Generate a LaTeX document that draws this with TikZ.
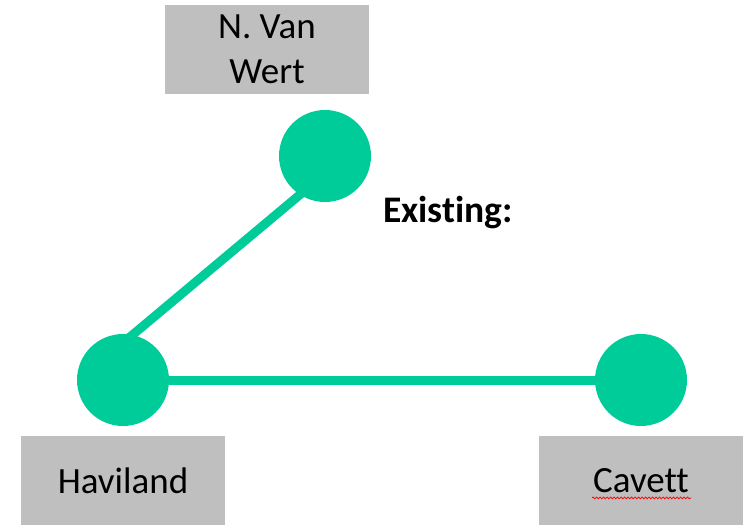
\documentclass[tikz,border=0pt]{standalone}
\usepackage{fontspec}
\setmainfont{Carlito}[Ligatures=NoCommon]
\usepackage{tikz}
\usetikzlibrary{positioning, decorations.pathmorphing}
\definecolor{sitegreen}{HTML}{00CC99}
\definecolor{labelgray}{HTML}{BFBFBF}
\tikzstyle{site} = [circle, minimum size=92pt, inner sep=0pt, fill=sitegreen]
\tikzstyle{namebox} = [rectangle, minimum width=204pt, minimum height=89pt, align=center, fill=labelgray, font=\fontsize{37}{45}\selectfont]
\tikzstyle{link} = [line width=9pt, draw=sitegreen, shorten <=-8pt, shorten >=-8pt]

\begin{document}
\begin{tikzpicture}[x=1pt, y=-1pt]
        \useasboundingbox (0,0) rectangle (745,525);
        \node (nvw) [site] at (325,156) {};
        \node (hav) [site] at (123,380) {};
        \node (cav) [site] at (641,380) {};
        
        \node (nvwbox) [namebox, above=16pt of nvw, xshift=-58pt] {N. Van\\Wert};
        \node (havbox) [namebox, below=10pt of hav] {Haviland};
        \node (cavbox) [namebox, below=10pt of cav] {Cavett};
        \node (existing) [font=\fontsize{37.5}{45}\selectfont\bfseries] at (448,213) {Existing:};
        
        \draw [red, line width=0.8pt, decorate, decoration={snake, amplitude=0.9pt, segment length=3.5pt}] ([xshift=-49pt, yshift=-17pt]cavbox.center) -- ([xshift=50pt, yshift=-17pt]cavbox.center);
        
        \draw [link] (hav.78) -- (nvw.237);
        \draw [link] (hav) -- (cav);
    \end{tikzpicture}
\end{document}
